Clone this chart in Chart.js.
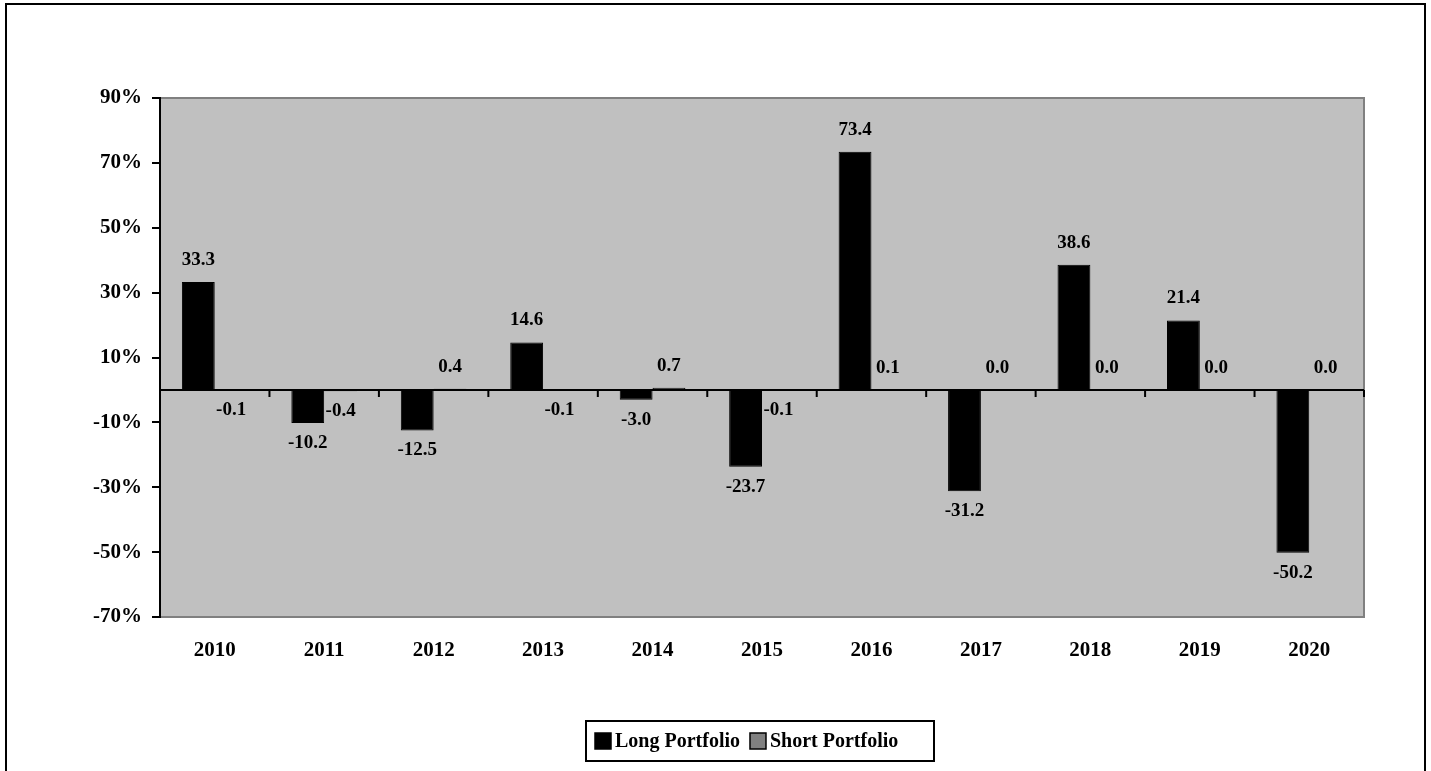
<!DOCTYPE html>
<html lang="en">
<head>
    <meta charset="UTF-8">
    <title>Long vs Short Portfolio Returns</title>
    <script src="https://cdn.jsdelivr.net/npm/chart.js"></script>
    <style>
        html, body { margin: 0; padding: 0; background: #fff; }
        canvas { display: block; }
    </style>
</head>
<body>
    <canvas id="returnsChart" width="1431" height="771"></canvas>
    <script>
        // yearly returns, in percent
        var years = ['2010', '2011', '2012', '2013', '2014', '2015', '2016', '2017', '2018', '2019', '2020'];
        var longReturns = [33.3, -10.2, -12.5, 14.6, -3.0, -23.7, 73.4, -31.2, 38.6, 21.4, -50.2];
        var shortReturns = [-0.1, -0.4, 0.4, -0.1, 0.7, -0.1, 0.1, 0.0, 0.0, 0.0, 0.0];
        var yTicks = [-70, -50, -30, -10, 10, 30, 50, 70, 90];
        var seriesNames = ['Long Portfolio', 'Short Portfolio'];

        var FONT = "'Liberation Serif', 'Times New Roman', serif";

        // grey plot background, frame around the whole chart
        var backdrop = {
            id: 'backdrop',
            beforeDraw: function(chart) {
                var c = chart.ctx, a = chart.chartArea;
                c.save();
                c.fillStyle = '#fff';
                c.fillRect(0, 0, chart.width, chart.height);
                c.strokeStyle = '#000';
                c.lineWidth = 2;
                c.strokeRect(6, 4, 1419, chart.height + 10);
                c.fillStyle = '#c0c0c0';
                c.fillRect(a.left, a.top, a.right - a.left, a.bottom - a.top);
                c.strokeStyle = '#808080';
                c.lineWidth = 2;
                c.beginPath();
                c.moveTo(a.left, a.top);
                c.lineTo(a.right, a.top);
                c.lineTo(a.right, a.bottom);
                c.lineTo(a.left, a.bottom);
                c.stroke();
                c.restore();
            }
        };

        // zero line with category separators, value labels, boxed legend
        var overlay = {
            id: 'overlay',
            afterDatasetsDraw: function(chart) {
                var c = chart.ctx, a = chart.chartArea;
                var xs = chart.scales.x, ys = chart.scales.y;
                var y0 = ys.getPixelForValue(0);
                c.save();
                c.strokeStyle = '#000';
                c.lineWidth = 2;
                c.beginPath();
                c.moveTo(a.left, y0);
                c.lineTo(a.right, y0);
                var step = xs.getPixelForValue(1) - xs.getPixelForValue(0);
                for (var i = 0; i < years.length; i++) {
                    var bx = xs.getPixelForValue(i) + step / 2;
                    c.moveTo(bx, y0);
                    c.lineTo(bx, y0 + 7);
                }
                c.stroke();

                c.fillStyle = '#000';
                c.font = 'bold 19px ' + FONT;
                c.textAlign = 'center';
                c.textBaseline = 'middle';
                chart.data.datasets.forEach(function(ds, di) {
                    chart.getDatasetMeta(di).data.forEach(function(bar, j) {
                        var v = ds.data[j];
                        var ty = v >= 0 ? bar.y - 22 : bar.y + 20;
                        c.fillText(v.toFixed(1), bar.x, ty);
                    });
                });

                // legend
                var lx = 586, ly = 721, lw = 348, lh = 40;
                c.lineWidth = 2;
                c.strokeRect(lx, ly, lw, lh);
                c.font = 'bold 20px ' + FONT;
                c.textAlign = 'left';
                var colors = ['#000', '#808080'];
                var px = lx + 9;
                seriesNames.forEach(function(name, k) {
                    c.fillStyle = colors[k];
                    c.fillRect(px, ly + 12, 16, 16);
                    c.lineWidth = 1.5;
                    c.strokeRect(px, ly + 12, 16, 16);
                    c.fillStyle = '#000';
                    c.fillText(name, px + 20, ly + 21);
                    px += 20 + c.measureText(name).width + 10;
                });
                c.restore();
            }
        };

        var ctx = document.getElementById('returnsChart').getContext('2d');
        var returnsChart = new Chart(ctx, {
            type: 'bar',
            data: {
                labels: years,
                datasets: [{
                    label: seriesNames[0],
                    data: longReturns,
                    backgroundColor: '#000',
                    borderColor: '#000',
                    borderWidth: 1,
                    categoryPercentage: 0.6,
                    barPercentage: 1
                }, {
                    label: seriesNames[1],
                    data: shortReturns,
                    backgroundColor: '#808080',
                    borderColor: '#000',
                    borderWidth: 1,
                    categoryPercentage: 0.6,
                    barPercentage: 1
                }]
            },
            options: {
                responsive: false,
                animation: false,
                layout: { padding: { top: 98, right: 67, left: 0, bottom: 94 } },
                plugins: {
                    legend: { display: false },
                    tooltip: { enabled: false }
                },
                scales: {
                    x: {
                        grid: { display: false, drawTicks: false },
                        border: { display: false },
                        ticks: {
                            color: '#000',
                            padding: 21,
                            maxRotation: 0,
                            font: { family: FONT, size: 21, weight: 'bold' }
                        },
                        afterFit: function(scale) { scale.height = 60; }
                    },
                    y: {
                        min: -70,
                        max: 90,
                        afterBuildTicks: function(scale) {
                            scale.ticks = yTicks.map(function(v) { return { value: v }; });
                        },
                        grid: {
                            drawOnChartArea: false,
                            color: '#000',
                            lineWidth: 2,
                            tickLength: 8
                        },
                        border: { display: true, color: '#000', width: 2 },
                        ticks: {
                            color: '#000',
                            padding: 10,
                            font: { family: FONT, size: 21, weight: 'bold' },
                            callback: function(v) { return v + '%'; }
                        },
                        afterFit: function(scale) { scale.width = 160; }
                    }
                }
            },
            plugins: [backdrop, overlay]
        });
    </script>
</body>
</html>
